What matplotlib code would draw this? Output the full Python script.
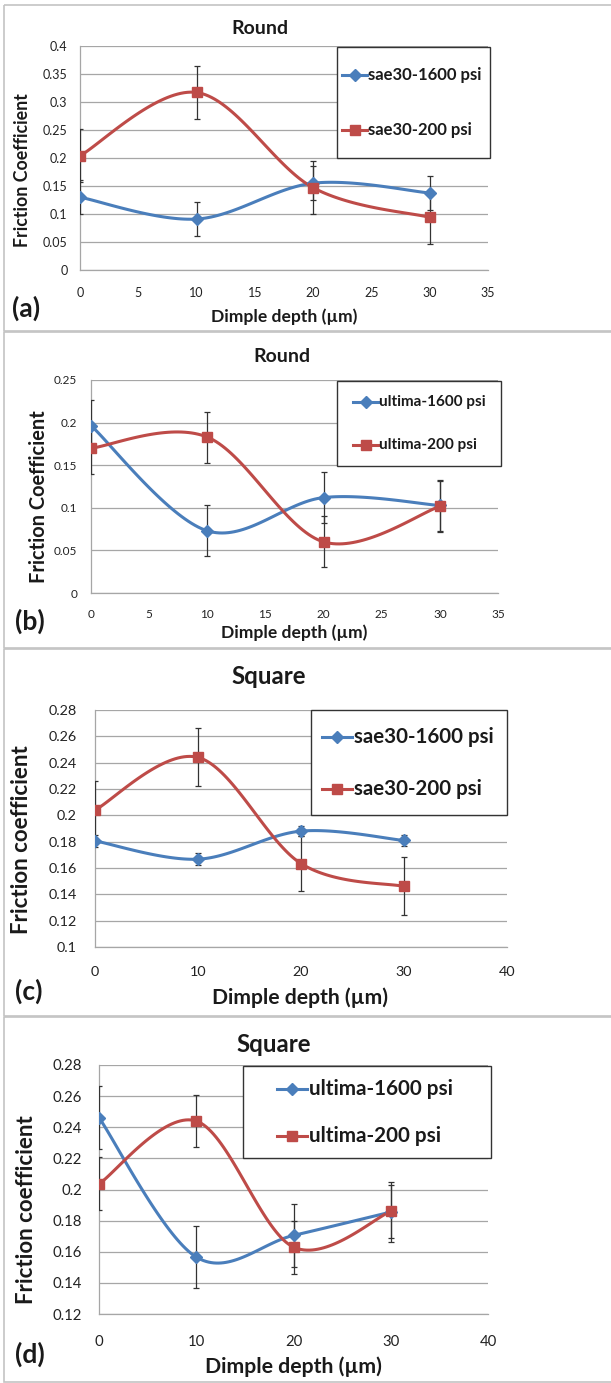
import matplotlib
matplotlib.use("Agg")
import matplotlib.pyplot as plt
from matplotlib.patches import Rectangle
from matplotlib.lines import Line2D
import numpy as np

plt.rcParams['font.family'] = ['Lato', 'DejaVu Sans']

W, H = 611, 1383
BLUE = '#4A7EBB'
RED = '#BE4B48'

depth = [0, 10, 20, 30]

# (a) Round, sae30
a_1600 = [0.130, 0.091, 0.155, 0.1375]
a_1600_err = [0.030, 0.030, 0.030, 0.030]
a_200 = [0.204, 0.317, 0.147, 0.094]
a_200_err = [0.047, 0.048, 0.047, 0.048]

# (b) Round, ultima
b_1600 = [0.1965, 0.073, 0.112, 0.1027]
b_1600_err = [0.030, 0.030, 0.030, 0.030]
b_200 = [0.170, 0.183, 0.060, 0.1016]
b_200_err = [0.030, 0.030, 0.030, 0.030]

# (c) Square, sae30
c_1600 = [0.1806, 0.1667, 0.188, 0.1809]
c_1600_err = [0.0045, 0.0045, 0.004, 0.004]
c_200 = [0.204, 0.244, 0.1634, 0.146]
c_200_err = [0.022, 0.022, 0.021, 0.022]

# (d) Square, ultima
d_1600 = [0.2462, 0.1566, 0.1705, 0.1855]
d_1600_err = [0.020, 0.020, 0.020, 0.019]
d_200 = [0.2036, 0.244, 0.163, 0.1859]
d_200_err = [0.017, 0.0165, 0.017, 0.017]


def px_axes(fig, x0, y0, x1, y1):
    return fig.add_axes([x0 / W, 1 - y1 / H, (x1 - x0) / W, (y1 - y0) / H])


def smooth_plot(ax, x, y, color):
    # Excel-style smoothed line: cubic Bezier through points, built in pixel space
    pts = ax.transData.transform(np.column_stack([x, y]))
    n = len(pts)
    ext = np.vstack([pts[0], pts, pts[-1]])
    out = []
    t = np.linspace(0, 1, 40)[:, None]
    for i in range(n - 1):
        p0 = ext[i + 1]
        p3 = ext[i + 2]
        c1 = p0 + (ext[i + 2] - ext[i]) / 6.0
        c2 = p3 - (ext[i + 3] - ext[i + 1]) / 6.0
        seg = ((1 - t) ** 3) * p0 + 3 * ((1 - t) ** 2) * t * c1 + 3 * (1 - t) * t ** 2 * c2 + t ** 3 * p3
        out.append(seg)
    curve = ax.transData.inverted().transform(np.vstack(out))
    ax.plot(curve[:, 0], curve[:, 1], color=color, lw=2.2, zorder=4, solid_capstyle='round')


def panel(fig, box, xlim, xticks, ylim, yticks, ylabels, s1, e1, s2, e2, tick_fs, xpad, ypad):
    ax = px_axes(fig, *box)
    ax.set_xlim(*xlim)
    ax.set_ylim(*ylim)
    ax.set_xticks(xticks)
    ax.set_yticks(yticks)
    ax.set_yticklabels(ylabels)
    ax.tick_params(axis='both', length=0, labelsize=tick_fs, colors='#222222')
    ax.tick_params(axis='x', pad=xpad)
    ax.tick_params(axis='y', pad=ypad)
    for s in ['top', 'right']:
        ax.spines[s].set_visible(False)
    for s in ['left', 'bottom']:
        ax.spines[s].set_color('#a6a6a6')
        ax.spines[s].set_linewidth(0.9)
    ax.yaxis.grid(True, color='#a6a6a6', lw=0.9)
    ax.set_axisbelow(True)
    ax.errorbar(depth, s1, yerr=e1, fmt='none', ecolor='#333333', elinewidth=0.9, capsize=2.2, capthick=0.9, zorder=3)
    ax.errorbar(depth, s2, yerr=e2, fmt='none', ecolor='#333333', elinewidth=0.9, capsize=2.2, capthick=0.9, zorder=3)
    smooth_plot(ax, depth, s1, BLUE)
    smooth_plot(ax, depth, s2, RED)
    ax.plot(depth, s1, ls='none', marker='D', ms=6, color=BLUE, zorder=5)
    ax.plot(depth, s2, ls='none', marker='s', ms=6.5, color=RED, zorder=5)
    return ax


fig = plt.figure(figsize=(W / 100, H / 100), dpi=100)

yt_a = [0, 0.05, 0.1, 0.15, 0.2, 0.25, 0.3, 0.35, 0.4]
panel(fig, (80, 46, 488, 270), (0, 35), range(0, 36, 5), (0, 0.4), yt_a,
      ['0', '0.05', '0.1', '0.15', '0.2', '0.25', '0.3', '0.35', '0.4'],
      a_1600, a_1600_err, a_200, a_200_err, 9, 12, 9)

yt_b = [0, 0.05, 0.1, 0.15, 0.2, 0.25]
panel(fig, (91, 380, 498, 593), (0, 35), range(0, 36, 5), (0, 0.25), yt_b,
      ['0', '0.05', '0.1', '0.15', '0.2', '0.25'],
      b_1600, b_1600_err, b_200, b_200_err, 8.5, 11.5, 10)

yt_c = [0.1, 0.12, 0.14, 0.16, 0.18, 0.2, 0.22, 0.24, 0.26, 0.28]
panel(fig, (95, 710, 507, 947), (0, 40), range(0, 41, 10), (0.1, 0.28), yt_c,
      ['0.1', '0.12', '0.14', '0.16', '0.18', '0.2', '0.22', '0.24', '0.26', '0.28'],
      c_1600, c_1600_err, c_200, c_200_err, 10.4, 13.5, 13)

yt_d = [0.12, 0.14, 0.16, 0.18, 0.2, 0.22, 0.24, 0.26, 0.28]
panel(fig, (99, 1065, 488, 1314), (0, 40), range(0, 41, 10), (0.12, 0.28), yt_d,
      ['0.12', '0.14', '0.16', '0.18', '0.2', '0.22', '0.24', '0.26', '0.28'],
      d_1600, d_1600_err, d_200, d_200_err, 10.7, 15, 12)

# overlay in pixel coordinates for frames, labels and legends
ov = fig.add_axes([0, 0, 1, 1], facecolor='none')
ov.set_xlim(0, W)
ov.set_ylim(H, 0)
ov.axis('off')

for y0, y1 in [(5, 331), (332, 648), (648.5, 1016), (1016.5, 1382)]:
    ov.add_patch(Rectangle((4, y0), W + 10, y1 - y0, fill=False, ec='#c4c4c4', lw=1.2))

titles = [('Round', 260, 28, 14), ('Round', 282, 357, 14), ('Square', 269, 677, 17.3), ('Square', 274, 1045, 17.3)]
for txt, x, y, fs in titles:
    ov.text(x, y, txt, ha='center', va='center', fontsize=fs, fontweight='bold', color='#1a1a1a')

ylabs = [('Friction Coefficient', 23, 170, 12.8), ('Friction Coefficient', 39, 497, 14.4),
         ('Friction coefficient', 22, 840, 16), ('Friction coefficient', 27, 1210, 16)]
for txt, x, y, fs in ylabs:
    ov.text(x, y, txt, ha='center', va='center', rotation=90, fontsize=fs, fontweight='bold', color='#1a1a1a')

xlabs = [(284, 317, 12.6), (294, 633, 12.6), (300, 998, 15.2), (293, 1367, 15.3)]
for x, y, fs in xlabs:
    ov.text(x, y, 'Dimple depth (µm)', ha='center', va='center', fontsize=fs, fontweight='bold', color='#1a1a1a')

letters = [('(a)', 12, 308), ('(b)', 15, 621), ('(c)', 15, 991), ('(d)', 15, 1354)]
for txt, x, y in letters:
    ov.text(x, y, txt, ha='left', va='center', fontsize=19, fontweight='bold', color='#1a1a1a')

legends = [
    ((337, 47, 490, 158), (75, 130), (342, 367), 368, 12, ['sae30-1600 psi', 'sae30-200 psi']),
    ((337, 381, 501, 466), (402, 445), (353, 378), 379, 11, ['ultima-1600 psi', 'ultima-200 psi']),
    ((311, 710, 507, 815), (737, 789), (322, 352), 354, 14.8, ['sae30-1600 psi', 'sae30-200 psi']),
    ((243, 1066, 491, 1158), (1089, 1136), (277, 307), 309, 14.9, ['ultima-1600 psi', 'ultima-200 psi']),
]
for (bx0, by0, bx1, by1), rows, (hx0, hx1), tx, fs, labels in legends:
    ov.add_patch(Rectangle((bx0, by0), bx1 - bx0, by1 - by0, fc='white', ec='#333333', lw=1.0, zorder=6))
    for ry, lab, col, mk, ms in zip(rows, labels, [BLUE, RED], ['D', 's'], [6, 6.5]):
        ov.add_line(Line2D([hx0, hx1], [ry, ry], color=col, lw=2.2, zorder=7))
        ov.add_line(Line2D([(hx0 + hx1) / 2], [ry], color=col, marker=mk, ms=ms, zorder=8))
        ov.text(tx, ry, lab, ha='left', va='center', fontsize=fs, fontweight='bold', color='#1a1a1a', zorder=8)

fig.savefig('out.png', dpi=100)
